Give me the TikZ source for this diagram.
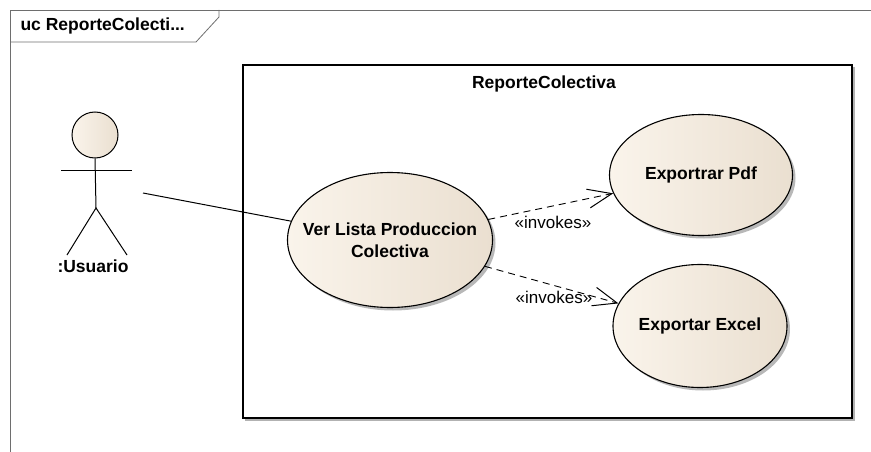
\documentclass[tikz,border=0pt]{standalone}
\usepackage{fontspec}
\setmainfont{Liberation Sans}
\definecolor{ucleft}{RGB}{250,244,235}
\definecolor{ucright}{RGB}{234,223,208}
\definecolor{ucframe}{RGB}{110,110,110}
\usetikzlibrary{arrows.meta,positioning,shapes.geometric,shadows}

\begin{document}
\begin{tikzpicture}[x=1pt,y=-1pt,
  usecase/.style={draw,ellipse,line width=1.1pt,inner sep=0pt,left color=ucleft,right color=ucright,
    drop shadow={shadow xshift=3pt,shadow yshift=-3pt,fill=black!35,opacity=0.8}},
  uctext/.style={font=\fontsize{17.5}{22}\selectfont\bfseries,align=center},
  dep/.style={dashed,line width=0.9pt,dash pattern=on 7pt off 5pt,-{Straight Barb[length=24pt,width=19pt,line width=1pt]}},
  lbl/.style={font=\fontsize{17}{19}\selectfont}]
  \useasboundingbox (0,0) rectangle (871,452);
  % frame
  \draw[ucframe,line width=0.8pt] (10,452) -- (10,10) -- (871,10);
  \draw[ucframe,line width=0.8pt] (10,42) -- (196,42) -- (219,17) -- (219,10);
  \node[anchor=west,font=\fontsize{17.5}{19}\selectfont\bfseries] (frametitle) at (17,26) {uc ReporteColecti...};
  % system boundary
  \draw[black!30,line width=1.2pt] (245,420) -- (854,420) -- (854,67);
  \draw[line width=1.2pt] (243,65) rectangle (852,418);
  \node[font=\fontsize{17.5}{19}\selectfont\bfseries] (systitle) at (544,84) {ReporteColectiva};
  % actor
  \node[draw,circle,line width=1pt,minimum size=46pt,inner sep=0pt,left color=ucleft,right color=ucright] (head) at (95,135) {};
  \draw[line width=1pt] (61,170) -- (132,170);
  \draw[line width=1pt] (head.south) -- (96,208) coordinate (hip);
  \draw[line width=1pt] (67,255) -- (hip) -- (127,255);
  \node[font=\fontsize{17.5}{19}\selectfont\bfseries] (usuario) at (93,266) {:Usuario};
  \coordinate (usr) at (143,193);
  % use cases
  \node[usecase,minimum width=205pt,minimum height=135pt,
    label={[uctext]center:Ver Lista Produccion\\Colectiva}] (ver) at (390,240) {};
  \node[usecase,minimum width=183pt,minimum height=121pt,
    label={[uctext]center:Exportrar Pdf}] (pdf) at (701,175) {};
  \node[usecase,minimum width=174pt,minimum height=123pt,
    label={[uctext]center:Exportar Excel}] (excel) at (700,326) {};
  % connectors
  \draw[line width=1pt] (usr) -- (ver);
  \draw[dep] (ver) -- (pdf);
  \draw[dep] (ver) -- (excel);
  \node[lbl] (inv1) at (553,222) {«invokes»};
  \node[lbl] (inv2) at (554,297) {«invokes»};
\end{tikzpicture}
\end{document}
